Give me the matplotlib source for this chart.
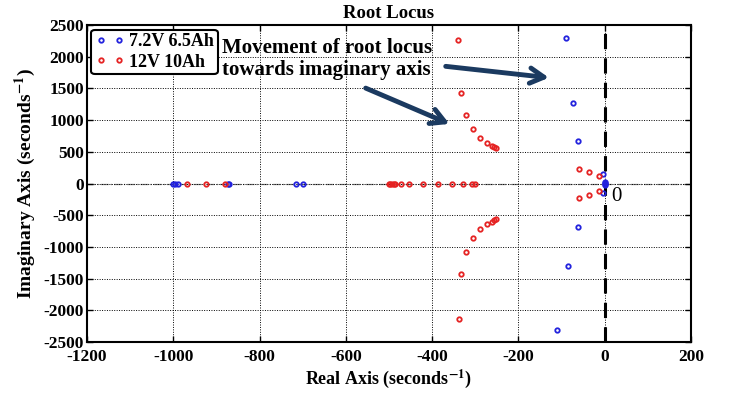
import matplotlib
matplotlib.use('Agg')
import matplotlib.pyplot as plt

plt.rcParams['font.family'] = ['Liberation Serif', 'DejaVu Serif']
plt.rcParams['mathtext.fontset'] = 'stix'

# 12V 10Ah poles (real, imag)
red_re = [-340, -334, -322, -306, -289, -273, -261, -256, -251,
          -337, -334, -322, -306, -289, -273, -261, -256, -251,
          -60, -36, -14, -60, -36, -14,
          -969, -925, -879, -500, -497, -493, -489, -485, -473,
          -453, -422, -386, -353, -328, -307, -301]
red_im = [2263, 1422, 1080, 860, 718, 639, 596, 580, 560,
          -2137, -1427, -1085, -855, -718, -644, -602, -580, -560,
          229, 177, 118, -224, -177, -118,
          0, 0, 0, 0, 0, 0, 0, 0, 0,
          0, 0, 0, 0, 0, 0, 0]

# 7.2V 6.5Ah poles
blue_re = [-90, -73, -63, -5, -5, -63, -86, -111,
           -1001, -996, -990, -874, -870, -716, -700,
           0, 0, 0, 0]
blue_im = [2290, 1265, 675, 145, -155, -681, -1301, -2315,
           0, 0, 0, 0, 0, 0, 0,
           25, 10, -10, -25]

xticks = [-1200, -1000, -800, -600, -400, -200, 0, 200]
yticks = [-2500, -2000, -1500, -1000, -500, 0, 500, 1000, 1500, 2000, 2500]

fig = plt.figure(figsize=(7.34, 3.94), dpi=100)
ax = fig.add_axes([0.1185, 0.132, 0.823, 0.8045])

ax.set_xlim(-1200, 200)
ax.set_ylim(-2500, 2500)
ax.set_xticks(xticks)
ax.set_yticks(yticks)
ax.set_xticklabels([str(v) for v in xticks], fontweight='bold', fontsize=12.5)
ax.set_yticklabels([str(v) for v in yticks], fontweight='bold', fontsize=12.5)
ax.tick_params(direction='in', top=True, right=True, length=4, width=1, pad=2)
ax.tick_params(axis='x', pad=5)
ax.grid(True, color='black', linestyle=(0, (1, 1.5)), linewidth=0.7)
for s in ax.spines.values():
    s.set_linewidth(1.5)

# real axis and imaginary axis lines
ax.axhline(0, color='gray', linestyle='-.', linewidth=0.9, zorder=1)
ax.axvline(0, color='black', linestyle=(0, (5, 3)), linewidth=2.2, zorder=2)

ax.plot(blue_re, blue_im, linestyle='none', marker='o', ms=3.2, mfc='none',
        mec='#2222dd', mew=1.3, label='7.2V 6.5Ah', zorder=3)
ax.plot(red_re, red_im, linestyle='none', marker='o', ms=3.2, mfc='none',
        mec='#e52222', mew=1.3, label='12V 10Ah', zorder=3)

leg = ax.legend(loc='upper left', numpoints=2, prop={'weight': 'bold', 'size': 13},
                fancybox=True, framealpha=1, edgecolor='black',
                borderpad=0.2, handlelength=1.6, handletextpad=0.3,
                labelspacing=0.2, borderaxespad=0.25)
leg.get_frame().set_linewidth(1.5)

ax.set_title('Root Locus', fontweight='bold', fontsize=13.5, pad=5)
ax.set_xlabel('Real Axis (seconds$^{\\mathbf{-1}}$)', fontweight='bold', fontsize=13, labelpad=2)
ax.set_ylabel('Imaginary Axis (seconds$^{\\mathbf{-1}}$)', fontweight='bold', fontsize=14, labelpad=4)

ax.text(-887, 2300, 'Movement of root locus\ntowards imaginary axis',
        fontweight='bold', fontsize=15, va='top', ha='left', linespacing=1.15)
ax.text(15, -200, '0', fontsize=15, va='center', ha='left')

ax.annotate('', xy=(-123, 1664), xytext=(-375, 1853),
            arrowprops=dict(arrowstyle='->,head_length=1.0,head_width=0.55',
                            color='#1b3a60', lw=3.5))
ax.annotate('', xy=(-354, 923), xytext=(-560, 1522),
            arrowprops=dict(arrowstyle='->,head_length=1.0,head_width=0.55',
                            color='#1b3a60', lw=3.5))

fig.savefig('out.png', dpi=100)
